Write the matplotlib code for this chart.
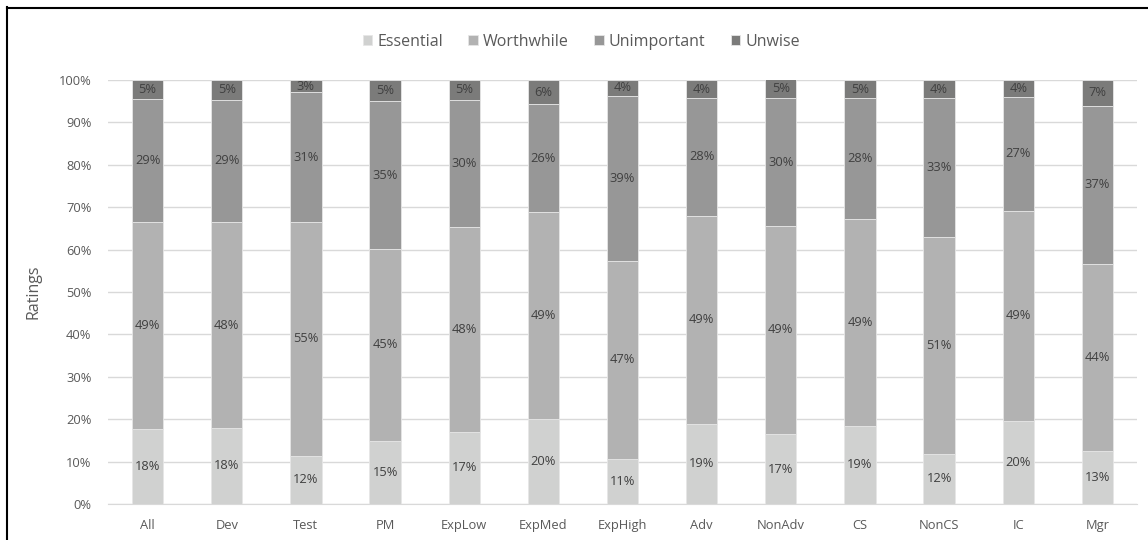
import numpy as np
import matplotlib
matplotlib.use("Agg")
import matplotlib.pyplot as plt
from matplotlib.lines import Line2D
from matplotlib.ticker import PercentFormatter

plt.rcParams['font.family'] = ['Open Sans', 'DejaVu Sans']

groups = ["All", "Dev", "Test", "PM", "ExpLow", "ExpMed", "ExpHigh",
          "Adv", "NonAdv", "CS", "NonCS", "IC", "Mgr"]
essential = [17.6, 18.0, 11.4, 14.9, 17.0, 20.0, 10.7, 18.9, 16.5, 18.4, 11.8, 19.6, 12.6]
worthwhile = [49.0, 48.4, 55.1, 45.2, 48.3, 48.8, 46.7, 49.1, 49.1, 48.8, 51.2, 49.5, 44.0]
unimportant = [28.9, 29.0, 30.6, 34.9, 30.0, 25.5, 38.9, 27.7, 30.1, 28.5, 32.7, 27.0, 37.3]
unwise = [4.5, 4.6, 2.9, 5.0, 4.7, 5.7, 3.7, 4.3, 4.5, 4.3, 4.3, 3.9, 6.1]
labels = {
    "Essential": [18, 18, 12, 15, 17, 20, 11, 19, 17, 19, 12, 20, 13],
    "Worthwhile": [49, 48, 55, 45, 48, 49, 47, 49, 49, 49, 51, 49, 44],
    "Unimportant": [29, 29, 31, 35, 30, 26, 39, 28, 30, 28, 33, 27, 37],
    "Unwise": [5, 5, 3, 5, 5, 6, 4, 4, 5, 5, 4, 4, 7],
}

series = [("Essential", essential, "#d0d1d0"),
          ("Worthwhile", worthwhile, "#b2b2b2"),
          ("Unimportant", unimportant, "#979797"),
          ("Unwise", unwise, "#7b7b7a")]

fig = plt.figure(figsize=(11.48, 5.4), dpi=100)
ax = fig.add_axes([108 / 1148, 36 / 540, (1137 - 108) / 1148, (504 - 80) / 540])

x = np.arange(len(groups))
bottom = np.zeros(len(groups))
for name, vals, col in series:
    vals = np.array(vals)
    ax.bar(x, vals, 0.395, bottom=bottom, color=col, label=name,
           edgecolor="#e6e6e6", linewidth=0.6, zorder=3)
    for i in range(len(groups)):
        ax.text(x[i], bottom[i] + vals[i] / 2, "%d%%" % labels[name][i],
                ha="center", va="center", fontsize=9.3, color="#404040", zorder=4)
    bottom += vals

ax.set_xlim(-0.5, len(groups) - 0.5)
ax.set_ylim(0, 100)
ax.set_yticks(np.arange(0, 101, 10))
ax.yaxis.set_major_formatter(PercentFormatter(decimals=0))
ax.set_xticks(x)
ax.set_xticklabels(groups)
ax.tick_params(axis="both", length=0, labelsize=9.3, colors="#595959", pad=11)
ax.tick_params(axis="y", pad=12)
ax.grid(axis="y", color="#d9d9d9", linewidth=1, zorder=0)
for s in ["top", "right", "left"]:
    ax.spines[s].set_visible(False)
ax.spines["bottom"].set_color("#d9d9d9")
ax.set_ylabel("Ratings", fontsize=11.5, color="#595959", labelpad=12)

ax.legend(loc="center", bbox_to_anchor=(0.46, 1.0 + 38 / 424), ncol=4, frameon=False,
          fontsize=11.5, handlelength=0.6, handleheight=0.6, handletextpad=0.3,
          columnspacing=1.6, labelcolor="#595959")

# frame lines of the screenshot
fig.add_artist(Line2D([6.5 / 1148, 6.5 / 1148], [0, 1 - 7 / 540], color="black", lw=1.5))
fig.add_artist(Line2D([6.5 / 1148, 1], [1 - 7.5 / 540, 1 - 7.5 / 540], color="black", lw=1.5))

fig.savefig("out.png", dpi=100)
